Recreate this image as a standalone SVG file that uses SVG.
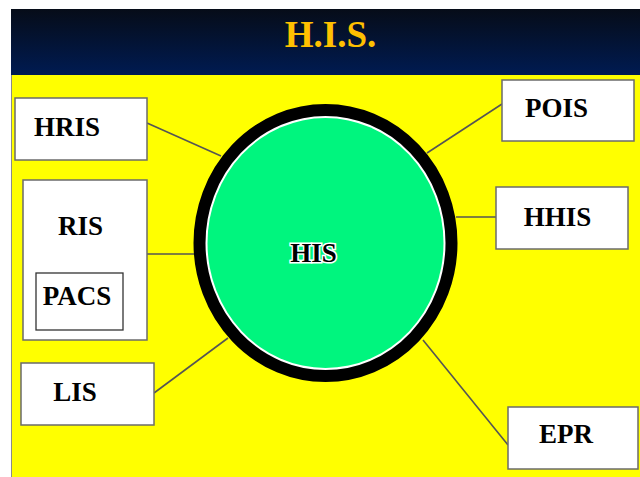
<svg xmlns="http://www.w3.org/2000/svg" width="640" height="477" viewBox="0 0 640 477">
  <defs>
    <linearGradient id="hdr" x1="0" y1="0" x2="0" y2="1">
      <stop offset="0" stop-color="#060c18"/>
      <stop offset="1" stop-color="#001b52"/>
    </linearGradient>
    <style>
      .box { fill: #ffffff; stroke: #6b6b6b; stroke-width: 1.5; }
      .lbl { font-family: "Liberation Serif", "Times New Roman", serif; font-weight: bold; font-size: 27px; fill: #000000; }
      .conn line { stroke: #555555; stroke-width: 1.6; }
    </style>
  </defs>

  <!-- page -->
  <rect x="0" y="0" width="640" height="477" fill="#ffffff"/>
  <rect x="11" y="9" width="629" height="66" fill="url(#hdr)"/>
  <rect x="11" y="75" width="629" height="402" fill="#ffff00"/>
  <line x1="11.5" y1="75" x2="11.5" y2="477" stroke="#8a8a8a" stroke-width="1"/>

  <text x="330.5" y="47" text-anchor="middle" font-family="Liberation Serif, Times New Roman, serif" font-weight="bold" font-size="37" fill="#ffc000">H.I.S.</text>

  <!-- connectors -->
  <g id="connectors" class="conn">
    <line x1="147" y1="123" x2="221" y2="156"/>
    <line x1="147" y1="254" x2="194" y2="254"/>
    <line x1="154" y1="393" x2="228" y2="338"/>
    <line x1="502" y1="104" x2="427" y2="153"/>
    <line x1="456" y1="217" x2="496" y2="217"/>
    <line x1="508" y1="445" x2="423" y2="340"/>
  </g>

  <!-- central hub -->
  <g id="his">
    <ellipse cx="325.5" cy="243" rx="126" ry="133" fill="#ffffff" stroke="#000000" stroke-width="12"/>
    <ellipse cx="325.5" cy="243" rx="118" ry="125" fill="#00f57e"/>
    <text x="313.5" y="262" text-anchor="middle" class="lbl" stroke="#ffffff" stroke-width="3" paint-order="stroke">HIS</text>
  </g>

  <g id="hris">
    <rect x="15" y="98" width="132" height="62" class="box"/>
    <text x="67" y="136" text-anchor="middle" class="lbl">HRIS</text>
  </g>

  <g id="ris">
    <rect x="23" y="180" width="124" height="160" class="box"/>
    <text x="80.5" y="235" text-anchor="middle" class="lbl">RIS</text>
    <g id="pacs">
      <rect x="36" y="273" width="87" height="57" fill="#ffffff" stroke="#333333" stroke-width="1.3"/>
      <text x="77" y="305" text-anchor="middle" class="lbl">PACS</text>
    </g>
  </g>

  <g id="lis">
    <rect x="21" y="363" width="133" height="62" class="box"/>
    <text x="75" y="401" text-anchor="middle" class="lbl">LIS</text>
  </g>

  <g id="pois">
    <rect x="502" y="80" width="132" height="61" class="box"/>
    <text x="556.5" y="117" text-anchor="middle" class="lbl">POIS</text>
  </g>

  <g id="hhis">
    <rect x="496" y="187" width="132" height="62" class="box"/>
    <text x="557.5" y="226" text-anchor="middle" class="lbl">HHIS</text>
  </g>

  <g id="epr">
    <rect x="508" y="407" width="130" height="62" class="box"/>
    <text x="566" y="443" text-anchor="middle" class="lbl">EPR</text>
  </g>
</svg>
